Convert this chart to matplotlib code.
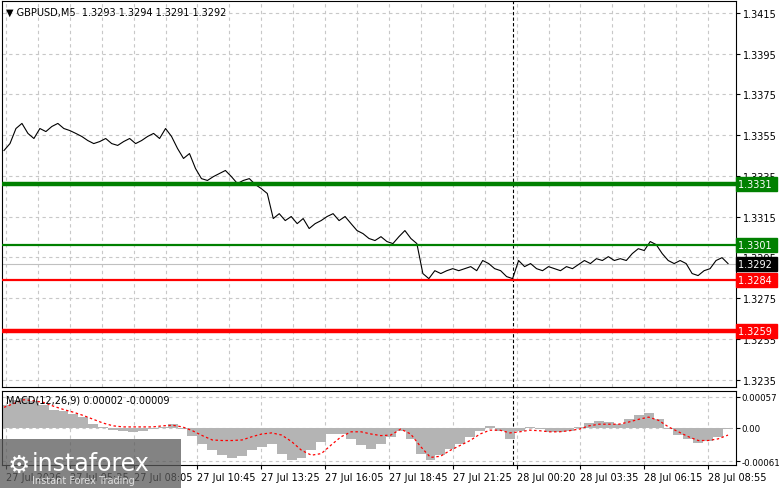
import matplotlib.pyplot as plt
import matplotlib.transforms as mtransforms
from matplotlib.patches import Rectangle
import numpy as np

# close prices, one sample every 3 bars (M5)
price = [1.33475, 1.33509, 1.33583, 1.33608, 1.33559, 1.33534, 1.33583, 1.33568, 1.33593, 1.33608,
         1.33583, 1.33573, 1.33559, 1.33544, 1.33524, 1.33509, 1.33519, 1.33534, 1.33509, 1.33500,
         1.33519, 1.33534, 1.33509, 1.33524, 1.33544, 1.33559, 1.33534, 1.33583, 1.33544, 1.33485,
         1.33436, 1.33460, 1.33387, 1.33337, 1.33328, 1.33347, 1.33362, 1.33377, 1.33347, 1.33313,
         1.33328, 1.33337, 1.33308, 1.33288, 1.33264, 1.33141, 1.33165, 1.33131, 1.33151, 1.33116,
         1.33141, 1.33092, 1.33116, 1.33131, 1.33151, 1.33165, 1.33131, 1.33151, 1.33116, 1.33082,
         1.33067, 1.33043, 1.33033, 1.33052, 1.33028, 1.33018, 1.33052, 1.33082, 1.33043, 1.33018,
         1.32871, 1.32846, 1.32885, 1.32871, 1.32885, 1.32895, 1.32885, 1.32895, 1.32905, 1.32885,
         1.32935, 1.32920, 1.32895, 1.32885, 1.32856, 1.32846, 1.32935, 1.32905, 1.32920, 1.32895,
         1.32885, 1.32905, 1.32895, 1.32885, 1.32905, 1.32895, 1.32915, 1.32935, 1.32920, 1.32944,
         1.32935, 1.32954, 1.32935, 1.32944, 1.32935, 1.32969, 1.32993, 1.32984, 1.33028, 1.33013,
         1.32969, 1.32935, 1.32920, 1.32935, 1.32920, 1.32871, 1.32861, 1.32885, 1.32895, 1.32935,
         1.32949, 1.32920]

macd_hist = [0.00043, 0.00052, 0.00056, 0.00049, 0.00043, 0.00034, 0.00031, 0.00025, 0.00020, 0.00007,
             0.00002, -0.00004, -0.00005, -0.00007, -0.00005, -0.00002, 0.00002, 0.00007, -0.00002, -0.00014,
             -0.00029, -0.00041, -0.00050, -0.00056, -0.00052, -0.00041, -0.00034, -0.00029, -0.00047, -0.00059,
             -0.00056, -0.00041, -0.00025, -0.00011, -0.00011, -0.00020, -0.00032, -0.00038, -0.00029, -0.00016,
             -0.00005, -0.00020, -0.00047, -0.00059, -0.00050, -0.00038, -0.00029, -0.00016, -0.00005, 0.00004,
             -0.00005, -0.00020, -0.00005, 0.00002, -0.00002, -0.00007, -0.00007, -0.00005, 0.00002, 0.00009,
             0.00013, 0.00011, 0.00007, 0.00016, 0.00023, 0.00027, 0.00016, -0.00002, -0.00013, -0.00020,
             -0.00027, -0.00023, -0.00016, -0.00002]

macd_signal = [0.00038, 0.00045, 0.00052, 0.00050, 0.00047, 0.00040, 0.00034, 0.00029, 0.00023, 0.00016,
               0.00009, 0.00004, 0.00002, 0.00002, 0.00002, 0.00002, 0.00004, 0.00005, 0.00002, -0.00005,
               -0.00014, -0.00022, -0.00023, -0.00023, -0.00022, -0.00016, -0.00011, -0.00009, -0.00013, -0.00025,
               -0.00041, -0.00050, -0.00047, -0.00031, -0.00016, -0.00007, -0.00007, -0.00011, -0.00014, -0.00013,
               -0.00002, -0.00011, -0.00034, -0.00054, -0.00052, -0.00041, -0.00032, -0.00023, -0.00011, -0.00004,
               -0.00004, -0.00009, -0.00007, -0.00004, -0.00005, -0.00007, -0.00007, -0.00005, -0.00002, 0.00004,
               0.00007, 0.00007, 0.00007, 0.00011, 0.00016, 0.00020, 0.00014, 0.00002, -0.00007, -0.00016,
               -0.00023, -0.00023, -0.00020, -0.00013]

time_labels = ["27 Jul 2026", "27 Jul 05:25", "27 Jul 08:05", "27 Jul 10:45", "27 Jul 13:25",
               "27 Jul 16:05", "27 Jul 18:45", "27 Jul 21:25", "28 Jul 00:20", "28 Jul 03:35",
               "28 Jul 06:15", "28 Jul 08:55"]
price_ticks = [1.3415, 1.3395, 1.3375, 1.3355, 1.3335, 1.3315, 1.3295, 1.3275, 1.3255, 1.3235]
levels = [(1.3331, '#008000', 3.2), (1.3301, '#008000', 1.6), (1.3284, '#ff0000', 1.6), (1.3259, '#ff0000', 3.2)]
last_price = 1.3292

n_bars = 367
px = np.arange(len(price)) * 3
grid_x = np.arange(1, n_bars, 16)
label_x = grid_x[::2]
session_x = 255

W, H = 781, 489
fig = plt.figure(figsize=(W / 100, H / 100), dpi=100)
plt.rcParams['font.family'] = 'DejaVu Sans'
ax = fig.add_axes([2 / W, 1 - 388 / H, 734 / W, 386 / H])
axm = fig.add_axes([2 / W, 1 - 466 / H, 734 / W, 74 / H])

grid_style = dict(color='#c8c8c8', linestyle=(0, (3, 3)), linewidth=0.8)
for a in (ax, axm):
    a.set_xlim(-1, n_bars)
    a.set_xticks(grid_x)
    a.grid(True, **grid_style)
    a.set_axisbelow(True)
    a.yaxis.tick_right()
    a.tick_params(axis='y', direction='out', length=3, labelsize=7, pad=2)
    for s in a.spines.values():
        s.set_color('black')
        s.set_linewidth(0.8)
    a.axvline(session_x, color='black', linestyle=(0, (3, 2)), linewidth=0.8)

# price panel
ax.set_ylim(1.32314, 1.34209)
ax.set_yticks(price_ticks)
ax.set_yticklabels([f"{v:.4f}" for v in price_ticks])
ax.tick_params(axis='x', length=0, labelbottom=False)
ax.plot(px, price, color='black', linewidth=0.8, zorder=3)
ax.axhline(last_price, color='#c0c0c0', linewidth=0.8, zorder=2)

trans = mtransforms.blended_transform_factory(ax.transAxes, ax.transData)
for lvl, col, lw in levels:
    ax.axhline(lvl, color=col, linewidth=lw, zorder=4)
    ax.text(1.003, lvl, f"{lvl:.4f} ", transform=trans, color='white', fontsize=7,
            va='center', ha='left', zorder=6, clip_on=False,
            bbox=dict(boxstyle='square,pad=0.2', fc=col, ec=col))
ax.text(1.003, last_price, f"{last_price:.4f} ", transform=trans, color='white', fontsize=7,
        va='center', ha='left', zorder=6, clip_on=False,
        bbox=dict(boxstyle='square,pad=0.2', fc='black', ec='black'))
ax.text(0.006, 0.985, "\u25bc GBPUSD,M5  1.3293 1.3294 1.3291 1.3292", transform=ax.transAxes,
        fontsize=7, va='top', ha='left')

# MACD panel
mx = np.linspace(0, 363, len(macd_hist))
sx = np.linspace(0, 363, len(macd_signal))
axm.set_ylim(-0.00068, 0.00068)
axm.bar(mx, macd_hist, width=mx[1] - mx[0], color='#b4b4b4', linewidth=0, zorder=2)
axm.plot(sx, macd_signal, color='#ff0000', linestyle=(0, (2, 2)), linewidth=0.9, zorder=3)
axm.set_yticks([0.00057, 0.0, -0.00061])
axm.set_yticklabels(["0.00057", "0.00", "-0.00061"])
axm.tick_params(axis='y', labelsize=6.2, pad=1)
axm.set_xticks(label_x, labels=time_labels)
axm.tick_params(axis='x', direction='out', length=3, labelsize=7, pad=2)
for lab in axm.get_xticklabels():
    lab.set_horizontalalignment('left')
axm.text(0.006, 0.95, "MACD(12,26,9) 0.00002 -0.00009", transform=axm.transAxes,
         fontsize=7, va='top', ha='left')

# watermark
fig.patches.append(Rectangle((0, 0), 181 / W, 49 / H, transform=fig.transFigure,
                             facecolor='#5a5a5a', alpha=0.75, zorder=10))
fig.text(32 / W, 25 / H, "instaforex", color='white', fontsize=17, va='center', ha='left', zorder=11)
fig.text(32 / W, 8 / H, "Instant Forex Trading", color='#e0e0e0', fontsize=7, va='center', ha='left', zorder=11)
fig.text(8 / W, 23 / H, "\u2699", color='white', fontsize=18, va='center', ha='left', zorder=11)

fig.savefig("out.png", dpi=100)
